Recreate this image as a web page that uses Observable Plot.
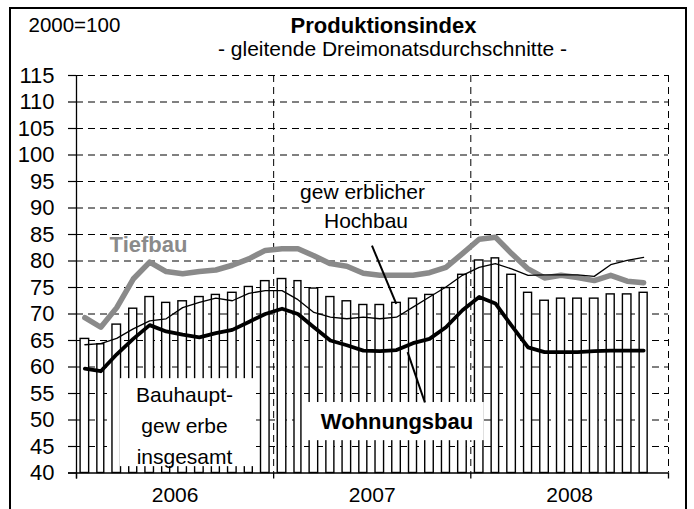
<!DOCTYPE html>
<html><head><meta charset="utf-8">
<script src="https://cdn.jsdelivr.net/npm/d3@7"></script>
<script src="https://cdn.jsdelivr.net/npm/@observablehq/plot@0.6"></script>
<style>
body{margin:0;background:#fff;}
#wrap{position:relative;width:694px;height:509px;overflow:hidden;background:#fff;}
#wrap svg{position:absolute;left:0;top:0;}
#border{position:absolute;left:9px;top:7px;width:678px;height:530px;border:2px solid #000;box-sizing:border-box;pointer-events:none;}
</style></head><body><div id="wrap"></div>
<script>
const months = ["2006-01","2006-02","2006-03","2006-04","2006-05","2006-06","2006-07","2006-08","2006-09","2006-10","2006-11","2006-12",
  "2007-01","2007-02","2007-03","2007-04","2007-05","2007-06","2007-07","2007-08","2007-09","2007-10","2007-11","2007-12",
  "2008-01","2008-02","2008-03","2008-04","2008-05","2008-06","2008-07","2008-08","2008-09","2008-10","2008-11"];
const bauhauptgewerbe = [65.3,64.3,68.0,71.0,73.2,72.1,72.4,73.2,73.6,74.0,75.1,76.2,
  76.6,76.2,74.8,73.2,72.4,71.7,71.7,72.1,72.9,73.6,74.9,77.4,
  80.1,80.5,77.4,74.0,72.5,72.9,72.9,72.9,73.7,73.7,74.0];
const tiefbau = [69.3,67.5,71.2,76.6,79.8,78.0,77.6,78.0,78.3,79.2,80.4,82.0,
  82.3,82.3,81.0,79.5,79.0,77.7,77.3,77.3,77.3,77.8,78.8,81.4,
  84.1,84.5,81.4,78.5,76.8,77.3,76.9,76.3,77.3,76.2,75.9];
const hochbau = [64.2,64.4,65.4,67.2,68.7,69.1,71.2,72.2,73.0,72.5,73.9,74.4,
  74.4,72.7,70.3,69.4,69.1,69.4,69.1,69.4,71.3,73.2,75.1,77.3,
  78.8,79.5,78.5,77.3,77.4,77.4,77.4,77.1,79.3,80.1,80.7];
const wohnungsbau = [59.7,59.2,62.4,65.3,67.9,66.7,66.1,65.6,66.4,67.0,68.5,70.0,
  71.0,70.0,67.5,65.0,64.1,63.1,63.0,63.2,64.5,65.3,67.5,70.7,
  73.2,72.0,67.8,63.7,62.8,62.8,62.8,63.0,63.1,63.1,63.1];
const yTicks = [40,45,50,55,60,65,70,75,80,85,90,95,100,105,110,115];
const yearLabels = ["2006","2007","2008"];
const yearBounds = ["2006-01-01","2007-01-01","2008-01-01","2009-01-01"];

const bounds = yearBounds.map(s => new Date(s + "T00:00Z"));
const rows = months.map((m, i) => {
  const start = new Date(m + "-01T00:00Z");
  const end = d3.utcMonth.offset(start, 1);
  return {start, end, mid: new Date((+start + +end) / 2),
    bau: bauhauptgewerbe[i], tief: tiefbau[i], hoch: hochbau[i], wohn: wohnungsbau[i]};
});
const yMin = yTicks[0];
const dt = (s) => () => new Date(s + "T00:00Z");
const font = "Liberation Sans, Arial, Helvetica, sans-serif";
const grey = "#8a8a8a";
const label = (txt, dx, dy, opts = {}) => Plot.text([txt], Object.assign({text: d => d, frameAnchor: "top-left",
  textAnchor: "middle", lineAnchor: "middle", dx, dy, fontSize: 21, fill: "black"}, opts));

const chart = Plot.plot({
  width: 694, height: 509,
  marginLeft: 76, marginRight: 26, marginTop: 75, marginBottom: 36.5,
  x: {type: "utc", domain: [bounds[0], bounds[3]], axis: null},
  y: {domain: [yMin, yTicks[yTicks.length - 1]], axis: null},
  style: {fontFamily: font, background: "white", color: "black", overflow: "visible"},
  marks: [
    Plot.ruleY(yTicks.slice(1), {y: d => d, stroke: "black", strokeWidth: 1, strokeDasharray: "7,5"}),
    Plot.ruleX(bounds.slice(1), {x: d => d, stroke: "black", strokeWidth: 1, strokeDasharray: "7,5"}),
    Plot.rect(rows, {x1: "start", x2: "end", y1: d => yMin, y2: "bau", insetLeft: 4.1, insetRight: 4.1,
      fill: "white", stroke: "black", strokeWidth: 1.4}),
    // annotation boxes
    Plot.rect([0], {x1: dt("2006-03-23"), x2: dt("2006-11-28"), y1: () => 41.2, y2: () => 57.8, fill: "white"}),
    Plot.rect([0], {x1: dt("2007-02-25"), x2: dt("2008-01-26"), y1: () => 46.1, y2: () => 53.3, fill: "white"}),
    Plot.line(rows, {x: "mid", y: "tief", stroke: grey, strokeWidth: 5.5}),
    Plot.line(rows, {x: "mid", y: "hoch", stroke: "black", strokeWidth: 1.3}),
    Plot.line(rows, {x: "mid", y: "wohn", stroke: "black", strokeWidth: 3.8}),
    // axes
    Plot.ruleX([bounds[0]], {x: d => d, stroke: "black", strokeWidth: 1.3, insetBottom: -6}),
    Plot.ruleY([yMin], {y: d => d, stroke: "black", strokeWidth: 1.3, insetLeft: -8}),
    Plot.ruleY(yTicks, {y: d => d, stroke: "black", strokeWidth: 1.2, insetLeft: -8, insetRight: 592}),
    Plot.ruleX(bounds, {x: d => d, stroke: "black", strokeWidth: 1.3, insetTop: 397.5, insetBottom: -6}),
    Plot.text(yTicks, {y: d => d, text: d => String(d), frameAnchor: "left", textAnchor: "end", lineAnchor: "middle", dx: -22, fontSize: 22, fill: "black"}),
    Plot.text(yearLabels, {x: (d, i) => new Date((+bounds[i] + +bounds[i + 1]) / 2), text: d => d,
      frameAnchor: "bottom", lineAnchor: "middle", dy: 22, fontSize: 21, fill: "black"}),
    // arrows
    Plot.link([0], {x1: dt("2007-07-02"), y1: () => 82.9, x2: dt("2007-08-16"), y2: () => 71.9, stroke: "black", strokeWidth: 2}),
    Plot.link([0], {x1: dt("2007-10-08"), y1: () => 53.3, x2: dt("2007-09-06"), y2: () => 62.8, stroke: "black", strokeWidth: 2}),
    // titles & labels
    label("2000=100", -48, -50, {textAnchor: "start", fontSize: 20.5}),
    label("Produktionsindex", 307, -49.5, {fontSize: 22, fontWeight: "bold", letterSpacing: 0.3}),
    label("- gleitende Dreimonatsdurchschnitte -", 316, -26, {letterSpacing: 0.4}),
    label("Tiefbau", 72, 169, {fontSize: 22, fontWeight: "bold", fill: grey, letterSpacing: 1.2}),
    label("gew erblicher", 286, 117),
    label("Hochbau", 289.5, 146),
    label("Bauhaupt-", 108, 320),
    label("gew erbe", 108, 351),
    label("insgesamt", 108, 382),
    label("Wohnungsbau", 320.5, 346, {fontSize: 22, fontWeight: "bold", letterSpacing: 1.1})
  ]
});
const wrap = document.getElementById("wrap");
wrap.appendChild(chart);
const border = document.createElement("div");
border.id = "border";
wrap.appendChild(border);
</script></body></html>
